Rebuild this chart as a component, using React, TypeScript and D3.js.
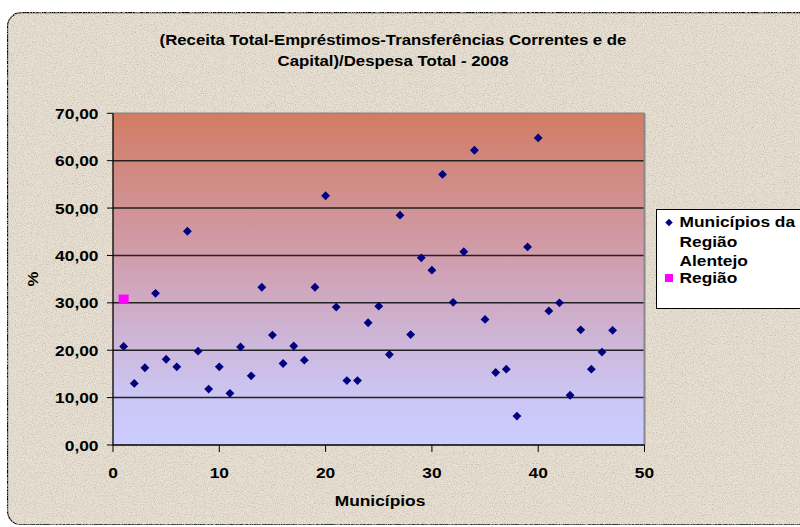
import React from "react";
import * as d3 from "d3";

const municipios: number[] = [
  1, 2, 3, 4, 5, 6, 7, 8, 9, 10, 11, 12, 13, 14, 15, 16, 17, 18, 19, 20, 21, 22, 23, 24,
  25, 26, 27, 28, 29, 30, 31, 32, 33, 34, 35, 36, 37, 38, 39, 40, 41, 42, 43, 44, 45, 46, 47,
];
const valoresMunicipios: number[] = [
  20.8, 13.0, 16.3, 32.0, 18.1, 16.5, 45.1, 19.8, 11.8, 16.5, 10.9, 20.7, 14.6, 33.3, 23.2,
  17.2, 20.9, 17.9, 33.3, 52.6, 29.1, 13.6, 13.6, 25.8, 29.3, 19.1, 48.5, 23.3, 39.5, 36.9,
  57.1, 30.1, 40.8, 62.2, 26.5, 15.3, 16.0, 6.1, 41.8, 64.8, 28.3, 30.0, 10.5, 24.3, 16.0,
  19.6, 24.2,
];
const regiaoX: number[] = [1];
const regiaoY: number[] = [30.8];

const yTicks: number[] = [0, 10, 20, 30, 40, 50, 60, 70];
const xTicks: number[] = [0, 10, 20, 30, 40, 50];

const titleLines: string[] = [
  "(Receita Total-Empréstimos-Transferências Correntes e de",
  "Capital)/Despesa Total - 2008",
];
const legendLabels: string[] = ["Municípios da", "Região", "Alentejo", "Região"];

const W = 800;
const H = 527;
const plot = { left: 113, right: 644.5, top: 113.3, bottom: 445 };
const FONT = "'Liberation Sans', Arial, Helvetica, sans-serif";
const SX = 1.12;

const locale = d3.formatLocale({ decimal: ",", thousands: ".", grouping: [3], currency: ["", "€"] });
const fmt = locale.format(".2f");

function T(props: {
  x: number;
  y: number;
  size: number;
  anchor?: "start" | "middle" | "end";
  children: React.ReactNode;
}) {
  return (
    <text
      transform={`translate(${props.x},${props.y}) scale(${SX},1)`}
      textAnchor={props.anchor || "start"}
      fontWeight="bold"
      fontSize={props.size}
      fill="#000"
    >
      {props.children}
    </text>
  );
}

export default function App() {
  const x = d3.scaleLinear().domain([0, 50]).range([plot.left, plot.right]);
  const y = d3.scaleLinear().domain([0, 70]).range([plot.bottom, plot.top]);
  const diamond = d3.symbol().type(d3.symbolDiamond2).size(50)();
  const pts = municipios.map((m, i) => ({ m, v: valoresMunicipios[i] }));

  return (
    <svg
      width={W}
      height={H}
      style={{ position: "absolute", left: 0, top: 0, display: "block" }}
      fontFamily={FONT}
    >
      <defs>
        <linearGradient id="plotGrad" x1="0" y1="0" x2="0" y2="1">
          <stop offset="0%" stopColor="#D27C64" />
          <stop offset="45%" stopColor="#D09FB0" />
          <stop offset="85%" stopColor="#CBC6F4" />
          <stop offset="100%" stopColor="#CCCCFF" />
        </linearGradient>
        <filter id="tex" x="0" y="0" width="100%" height="100%">
          <feTurbulence type="fractalNoise" baseFrequency="0.9" numOctaves="2" seed="3" result="n" />
          <feColorMatrix
            in="n"
            type="matrix"
            values="0 0 0 0 0.55  0 0 0 0 0.5  0 0 0 0 0.42  0 0 0 -2.2 1.25"
            result="c"
          />
          <feComposite in="c" in2="SourceGraphic" operator="in" result="m" />
          <feMerge>
            <feMergeNode in="SourceGraphic" />
            <feMergeNode in="m" />
          </feMerge>
        </filter>
      </defs>
      <rect x={0} y={0} width={W} height={H} fill="#ffffff" />
      <rect
        x={7.5}
        y={12.5}
        width={W + 20}
        height={512.5}
        rx={14}
        ry={14}
        fill="#E8E1D3"
        stroke="#000"
        strokeWidth={1.3}
        filter="url(#tex)"
      />

      {titleLines.map((t, i) => (
        <T key={i} x={393} y={44.5 + i * 21.5} size={15} anchor="middle">
          {t}
        </T>
      ))}

      <rect
        x={plot.left}
        y={plot.top}
        width={plot.right - plot.left}
        height={plot.bottom - plot.top}
        fill="url(#plotGrad)"
      />
      {yTicks.filter((t) => t > 0 && t < 70).map((t) => (
        <line key={t} x1={plot.left} x2={plot.right} y1={y(t)} y2={y(t)} stroke="#222" strokeWidth={1.5} />
      ))}
      <line x1={plot.left} x2={plot.right} y1={plot.top} y2={plot.top} stroke="#888" strokeWidth={1.5} />
      <line x1={plot.right} x2={plot.right} y1={plot.top} y2={plot.bottom} stroke="#888" strokeWidth={2} />
      <line x1={plot.left} x2={plot.left} y1={plot.top} y2={plot.bottom} stroke="#000" strokeWidth={1.3} />
      <line x1={plot.left} x2={plot.right} y1={plot.bottom} y2={plot.bottom} stroke="#000" strokeWidth={1.3} />

      {yTicks.map((t) => (
        <g key={t}>
          <line x1={plot.left - 6} x2={plot.left} y1={y(t)} y2={y(t)} stroke="#000" strokeWidth={1} />
          <T x={98.5} y={y(t) + 5.5} size={15.5} anchor="end">
            {fmt(t)}
          </T>
        </g>
      ))}
      {xTicks.map((t) => (
        <g key={t}>
          <line x1={x(t)} x2={x(t)} y1={plot.bottom} y2={plot.bottom + 7} stroke="#000" strokeWidth={1} />
          <T x={x(t)} y={477.5} size={15.5} anchor="middle">
            {t}
          </T>
        </g>
      ))}

      <T x={380} y={506} size={15.5} anchor="middle">
        Municípios
      </T>
      <text
        transform={`translate(38,${(plot.top + plot.bottom) / 2}) rotate(-90) scale(${SX},1)`}
        textAnchor="middle"
        fontWeight="bold"
        fontSize={15}
        fill="#000"
      >
        %
      </text>

      {pts.map((p) => (
        <path key={p.m} d={diamond} transform={`translate(${x(p.m)},${y(p.v)})`} fill="#000080" />
      ))}
      {regiaoX.map((rx, i) => (
        <rect key={i} x={x(rx) - 5} y={y(regiaoY[i]) - 4.5} width={10} height={9} fill="#FF00FF" />
      ))}

      <rect x={656.5} y={209.5} width={160} height={99} fill="#ffffff" stroke="#000" strokeWidth={1} />
      <path d={d3.symbol().type(d3.symbolDiamond2).size(36)()} transform="translate(669,222.5)" fill="#000080" />
      <rect x={665} y={274} width={8} height={8} fill="#FF00FF" />
      {legendLabels.map((l, i) => (
        <T key={i} x={679.5} y={[227.3, 246.7, 266, 283.3][i]} size={15.5}>
          {l}
        </T>
      ))}
    </svg>
  );
}
